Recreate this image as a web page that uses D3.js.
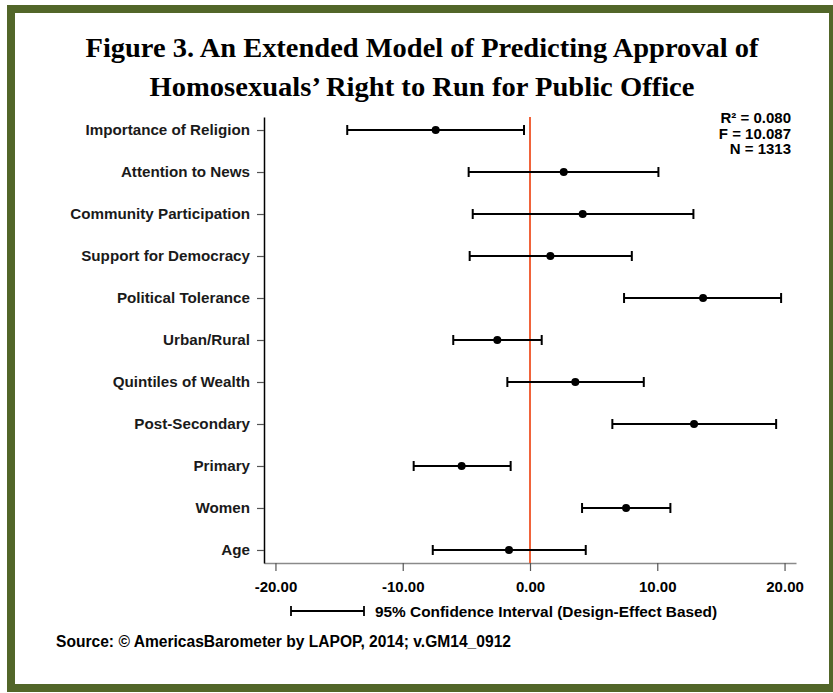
<!DOCTYPE html>
<html>
<head>
<meta charset="utf-8">
<script src="https://cdn.jsdelivr.net/npm/d3@7"></script>
<style>
html,body{margin:0;padding:0;background:#fff;}
svg{display:block;}
</style>
</head>
<body>
<svg id="chart" width="833" height="693"></svg>
<script>
const categories = ["Importance of Religion","Attention to News","Community Participation","Support for Democracy","Political Tolerance","Urban/Rural","Quintiles of Wealth","Post-Secondary","Primary","Women","Age"];
const estimates = [-7.41, 2.65, 4.14, 1.60, 13.60, -2.57, 3.56, 12.89, -5.37, 7.55, -1.65];
const lowerCI   = [-14.36, -4.82, -4.50, -4.74, 7.39, -6.03, -1.78, 6.47, -9.14, 4.09, -7.64];
const upperCI   = [-0.47, 10.09, 12.84, 8.00, 19.73, 0.92, 8.94, 19.34, -1.52, 11.03, 4.38];
const xTickValues = [-20, -10, 0, 10, 20];
const xTickLabels = ["-20.00", "-10.00", "0.00", "10.00", "20.00"];
const titleLines = ["Figure 3. An Extended Model of Predicting Approval of", "Homosexuals\u2019 Right to Run for Public Office"];
const statsLines = ["R\u00B2 = 0.080", "F = 10.087", "N = 1313"];
const legendText = "95% Confidence Interval (Design-Effect Based)";
const sourceText = "Source: \u00A9 AmericasBarometer by LAPOP, 2014; v.GM14_0912";

(function () {
const svg = d3.select("#chart");
const green = "#526629";
const sans = "'Liberation Sans', Arial, Helvetica, sans-serif";

// frame
svg.append("rect").attr("x", 0).attr("y", 0).attr("width", 833).attr("height", 693).attr("fill", "#fff");
svg.append("rect").attr("x", 11).attr("y", 9).attr("width", 822).attr("height", 679)
  .attr("fill", "#fff").attr("stroke", green).attr("stroke-width", 8);

// title
const titleWidths = [673, 545];
const title = svg.append("g").attr("font-family", "'Liberation Serif', 'Times New Roman', serif")
  .attr("font-weight", "bold").attr("font-size", 28).attr("fill", "#000").attr("text-anchor", "middle");
title.selectAll("text").data(titleLines).join("text")
  .attr("x", 422).attr("y", (d, i) => 57 + i * 39)
  .attr("textLength", (d, i) => titleWidths[i]).attr("lengthAdjust", "spacingAndGlyphs")
  .text(d => d);

const pLeft = 264, pRight = 796, pTop = 117, pBottom = 563;
const x = d3.scaleLinear().domain([-20.9, 20.9]).range([pLeft, pRight]);
const y = d3.scalePoint().domain(categories).range([pTop, pBottom]).padding(0.31);

const data = categories.map((c, i) => ({c, est: estimates[i], lo: lowerCI[i], hi: upperCI[i]}));

// x axis
const xAxis = d3.axisBottom(x).tickValues(xTickValues).tickFormat((d, i) => xTickLabels[i]).tickSize(8).tickSizeOuter(0);
const gx = svg.append("g").attr("transform", `translate(0,${pBottom})`).call(xAxis);
gx.select(".domain").attr("stroke", "#8a8a8a").attr("stroke-width", 1.5);
gx.selectAll(".tick line").attr("stroke", "#555").attr("stroke-width", 1.2);
gx.selectAll(".tick text").attr("font-family", sans)
  .attr("font-weight", "bold").attr("font-size", 15).attr("fill", "#000").attr("dy", "1.2em");

// y axis
const yAxis = d3.axisLeft(y).tickSize(7).tickSizeOuter(0).tickPadding(7);
const gy = svg.append("g").attr("transform", `translate(${pLeft},0)`).call(yAxis);
gy.select(".domain").attr("stroke", "#000").attr("stroke-width", 1.5);
gy.selectAll(".tick line").attr("stroke", "#555").attr("stroke-width", 1.2);
gy.selectAll(".tick text").attr("font-family", sans)
  .attr("font-weight", "bold").attr("font-size", 15.2).attr("fill", "#1a1a1a");

// zero line
svg.append("line").attr("x1", x(0)).attr("x2", x(0)).attr("y1", pTop).attr("y2", pBottom)
  .attr("stroke", "#f0633a").attr("stroke-width", 2);

// error bars
const cap = 5;
const bars = svg.append("g").attr("stroke", "#000").attr("stroke-width", 2);
bars.selectAll(".ci").data(data).join("line").attr("class", "ci")
  .attr("x1", d => x(d.lo)).attr("x2", d => x(d.hi)).attr("y1", d => y(d.c)).attr("y2", d => y(d.c));
bars.selectAll(".lo").data(data).join("line").attr("class", "lo")
  .attr("x1", d => x(d.lo)).attr("x2", d => x(d.lo)).attr("y1", d => y(d.c) - cap).attr("y2", d => y(d.c) + cap);
bars.selectAll(".hi").data(data).join("line").attr("class", "hi")
  .attr("x1", d => x(d.hi)).attr("x2", d => x(d.hi)).attr("y1", d => y(d.c) - cap).attr("y2", d => y(d.c) + cap);
svg.append("g").selectAll("circle").data(data).join("circle")
  .attr("cx", d => x(d.est)).attr("cy", d => y(d.c)).attr("r", 4).attr("fill", "#000");

// stats
const stats = svg.append("g").attr("font-family", sans)
  .attr("font-weight", "bold").attr("font-size", 15).attr("fill", "#000").attr("text-anchor", "end");
stats.selectAll("text").data(statsLines).join("text")
  .attr("x", 791).attr("y", (d, i) => 123 + i * 15.5).text(d => d);

// legend
const lg = svg.append("g").attr("stroke", "#000").attr("stroke-width", 1.8);
lg.append("line").attr("x1", 291).attr("x2", 364).attr("y1", 611).attr("y2", 611);
lg.append("line").attr("x1", 291).attr("x2", 291).attr("y1", 606).attr("y2", 616);
lg.append("line").attr("x1", 364).attr("x2", 364).attr("y1", 606).attr("y2", 616);
svg.append("text").attr("x", 375).attr("y", 616.5).attr("font-family", sans)
  .attr("font-weight", "bold").attr("font-size", 15.4).attr("fill", "#000").text(legendText);

// source
svg.append("text").attr("x", 56).attr("y", 646.5).attr("font-family", sans)
  .attr("font-weight", "bold").attr("font-size", 15.6).attr("fill", "#000").text(sourceText);
})();
</script>
</body>
</html>
